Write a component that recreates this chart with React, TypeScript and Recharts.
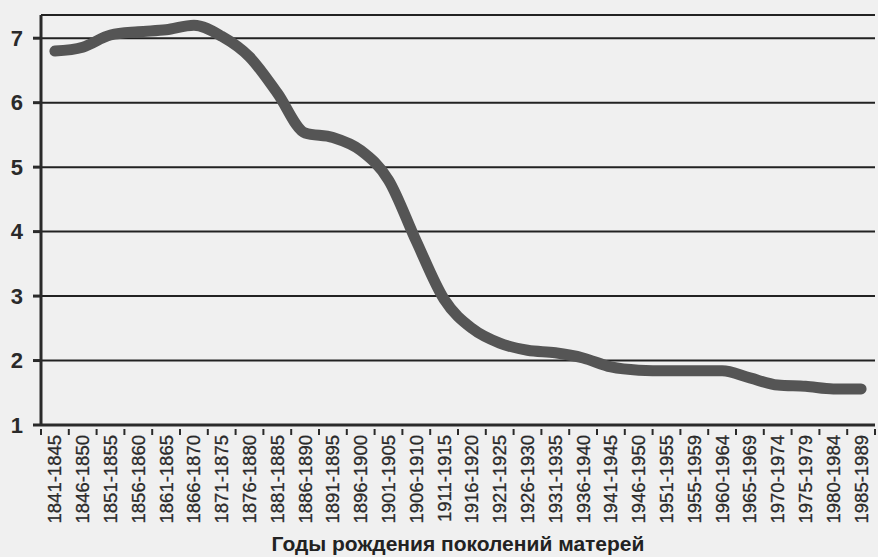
import React from "react";
import { LineChart, Line, XAxis, YAxis, CartesianGrid } from "recharts";

const periods = [
  "1841-1845", "1846-1850", "1851-1855", "1856-1860", "1861-1865", "1866-1870",
  "1871-1875", "1876-1880", "1881-1885", "1886-1890", "1891-1895", "1896-1900",
  "1901-1905", "1906-1910", "1911-1915", "1916-1920", "1921-1925", "1926-1930",
  "1931-1935", "1936-1940", "1941-1945", "1946-1950", "1951-1955", "1955-1959",
  "1960-1964", "1965-1969", "1970-1974", "1975-1979", "1980-1984", "1985-1989",
];

const fertility = [
  6.8, 6.86, 7.05, 7.1, 7.13, 7.2, 7.03, 6.71, 6.15, 5.53,
  5.46, 5.26, 4.8, 3.85, 2.95, 2.5, 2.27, 2.16, 2.12, 2.04,
  1.9, 1.85, 1.84, 1.84, 1.84, 1.73, 1.62, 1.6, 1.56, 1.56,
];

const yTicks = [1, 2, 3, 4, 5, 6, 7];

const data = periods.map((p, i) => ({ period: p, value: fertility[i] }));

const W = 878;
const H = 557;
const LEFT = 41;
const RIGHT = 3;
const STEP = (W - LEFT - RIGHT) / periods.length;
const FONT = "'Liberation Sans', Arial, sans-serif";

function PeriodTick(props: any) {
  const { x, y, payload, index } = props;
  const last = index === periods.length - 1;
  return (
    <g>
      <line x1={x - STEP / 2} y1={y - 8} x2={x - STEP / 2} y2={y - 2} stroke="#2a2a2a" strokeWidth={2} />
      {last && (
        <line x1={x + STEP / 2} y1={y - 8} x2={x + STEP / 2} y2={y - 2} stroke="#2a2a2a" strokeWidth={2} />
      )}
      <text
        x={x}
        y={y - 2}
        transform={`rotate(-90 ${x} ${y - 2})`}
        textAnchor="end"
        dominantBaseline="central"
        fontSize={18.5}
        fill="#2a2a2a"
        stroke="#2a2a2a"
        strokeWidth={0.3}
        fontFamily={FONT}
      >
        {payload.value}
      </text>
    </g>
  );
}

export default function App() {
  return (
    <div style={{ position: "absolute", left: 0, top: 0, width: W, height: H, background: "#f0f0f0" }}>
      <LineChart width={W} height={H} data={data} margin={{ top: 15, right: RIGHT, left: 0, bottom: 0 }}>
        <CartesianGrid horizontal vertical={false} stroke="#222" strokeWidth={2} />
        <XAxis
          dataKey="period"
          scale="band"
          interval={0}
          height={132}
          stroke="#2a2a2a"
          strokeWidth={3}
          tickLine={false}
          tick={<PeriodTick />}
          tickMargin={6}
          label={{
            value: "Годы рождения поколений матерей",
            position: "insideBottom",
            offset: 6,
            fontSize: 21,
            fontWeight: "bold",
            fill: "#222",
            fontFamily: FONT,
          }}
        />
        <YAxis
          domain={[1, 7.36]}
          ticks={yTicks}
          width={LEFT}
          stroke="#2a2a2a"
          strokeWidth={3}
          tickSize={8}
          tickMargin={10}
          tick={{ fontSize: 22, fill: "#2a2a2a", fontWeight: "bold", fontFamily: FONT }}
          allowDataOverflow
        />
        <Line
          type="monotone"
          dataKey="value"
          stroke="#555"
          strokeWidth={11}
          strokeLinecap="round"
          dot={false}
          isAnimationActive={false}
        />
      </LineChart>
    </div>
  );
}
